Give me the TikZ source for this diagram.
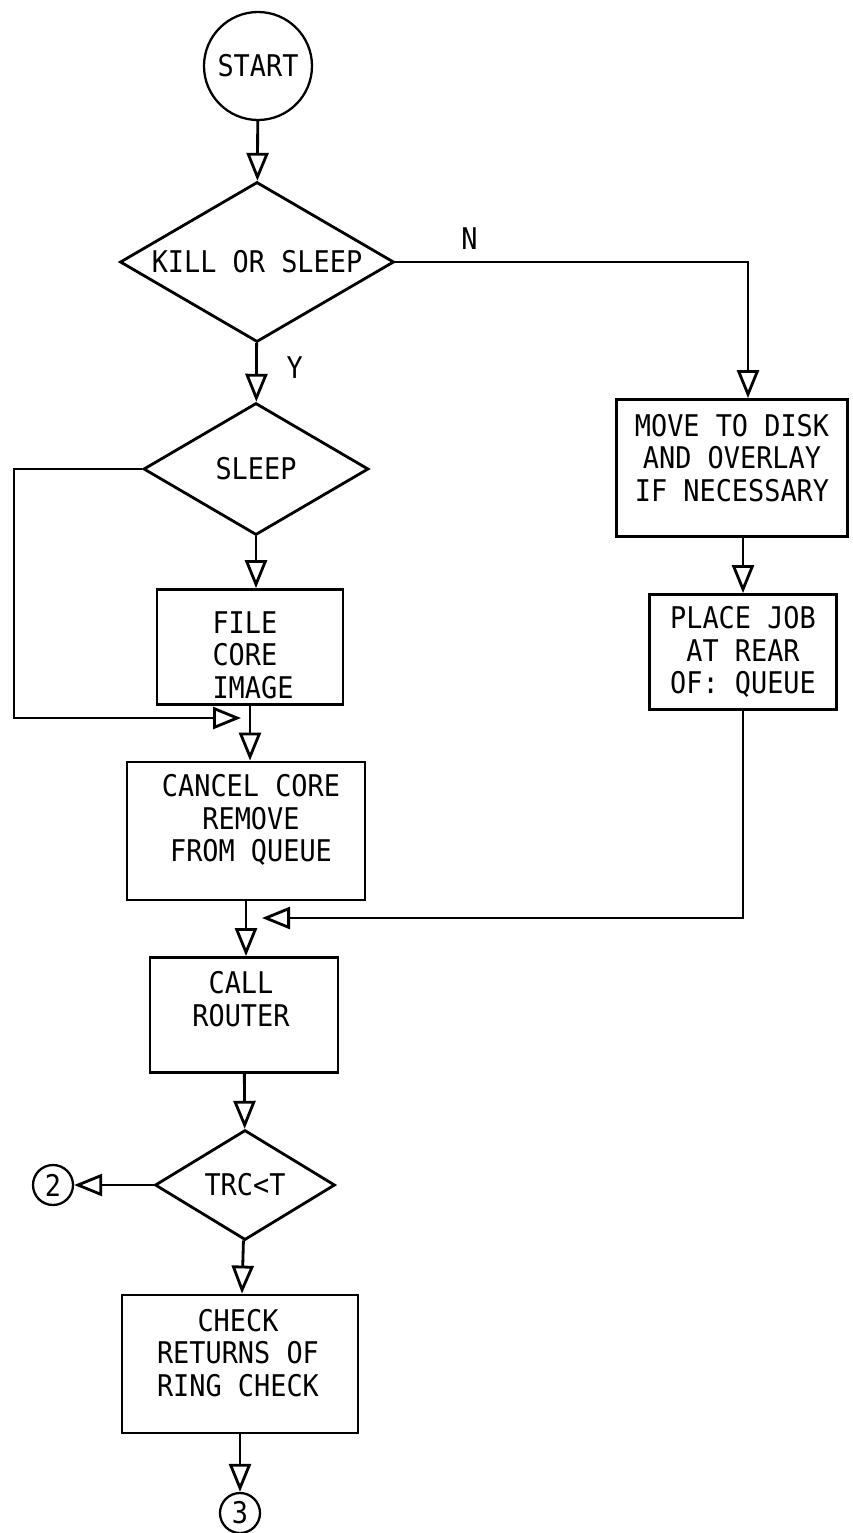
\documentclass[tikz,border=0pt]{standalone}
\usepackage{fontspec}
\newfontfamily\lettering[FakeStretch=0.9]{DejaVu Sans Mono}
\usetikzlibrary{arrows.meta,positioning,calc,shapes.geometric}

\begin{document}
\begin{tikzpicture}[x=0.2mm,y=-0.2mm,
  every node/.style={font=\lettering\fontsize{17}{18.4}\selectfont},
  term/.style={circle,draw,line width=1.3pt,inner sep=0pt},
  decision/.style={diamond,draw,line width=1.6pt,inner sep=0pt},
  procbox/.style={rectangle,draw,line width=1.6pt,inner sep=0pt},
  words/.style={align=center,inner sep=0pt},
  flow/.style={line width=1.6pt,-{Triangle[open,length=5.6mm,width=4.4mm]}}]
  \path[use as bounding box,fill=white] (0,0) rectangle (852,1533);

  % main column
  \node[term,minimum size=2.16cm] (start) at (258,66) {START};
  \node[decision,aspect=1.71,minimum width=5.48cm,minimum height=3.2cm] (kill) at (257,262) {KILL OR SLEEP};
  \node[decision,aspect=1.7,minimum width=4.5cm,minimum height=2.64cm] (sleep) at (256,469) {SLEEP};
  \node[procbox,minimum width=3.72cm,minimum height=2.3cm] (file) at (250,647) {};
  \node[words,align=left] (filetext) at (253,655) {FILE\\CORE\\IMAGE};
  \node[procbox,minimum width=4.76cm,minimum height=2.76cm] (cancel) at (246,831) {};
  \node[words] (canceltext) at (251,820) {CANCEL CORE\\REMOVE\\FROM QUEUE};
  \node[procbox,minimum width=3.76cm,minimum height=2.3cm] (call) at (244,1015) {};
  \node[words] (calltext) at (241,999) {CALL\\ROUTER};
  \node[decision,aspect=1.64,minimum width=3.6cm,minimum height=2.2cm] (trc) at (245,1185) {TRC<T};
  \node[term,minimum size=0.8cm] (two) at (53,1185) {2};
  \node[procbox,minimum width=4.72cm,minimum height=2.76cm] (check) at (240,1364) {};
  \node[words] (checktext) at (238,1353) {CHECK\\RETURNS OF\\RING CHECK};
  \node[term,minimum size=0.8cm] (three) at (240,1513) {3};

  % right column
  \node[procbox,minimum width=4.62cm,minimum height=2.74cm] (move) at (732,468) {};
  \node[words] (movetext) at (732,458) {MOVE TO DISK\\AND OVERLAY\\IF NECESSARY};
  \node[procbox,minimum width=3.74cm,minimum height=2.3cm] (place) at (743,652) {};
  \node[words] (placetext) at (743,652) {PLACE JOB\\AT REAR\\OF: QUEUE};

  \coordinate (ncorner) at (748,262);
  \coordinate (loopbot) at (14,718);
  \coordinate (fileout) at (241,718);
  \coordinate (backin) at (262,918);

  \draw[flow] (start) -- (kill);
  \draw[flow] (kill.east) -- (ncorner) node[pos=0.21,above=3pt] {N} -- (ncorner |- move.north);
  \draw[flow] (kill) -- node[pos=0.42,right=13pt] {Y} (sleep);
  \draw[flow] (sleep.south) -- (sleep.south |- file.north);
  \draw[flow] (sleep.west) -- (sleep.west -| loopbot) -- (loopbot) -- (fileout);
  \draw[flow] (file.south) -- (file.south |- cancel.north);
  \draw[flow] (place.north |- move.south) -- (place.north);
  \draw[flow] (place.south) -- (place.south |- backin) -- (backin);
  \draw[flow] (cancel.south) -- (cancel.south |- call.north);
  \draw[flow] (call) -- (trc);
  \draw[flow] (trc) -- (two);
  \draw[flow] (trc) -- (check);
  \draw[flow] (check) -- (three);
\end{tikzpicture}
\end{document}
